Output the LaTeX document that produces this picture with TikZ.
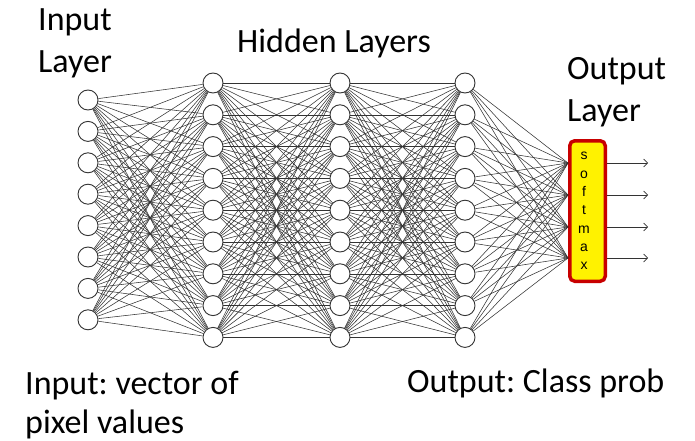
\documentclass[tikz,border=0pt]{standalone}
\usepackage{fontspec}
\setmainfont{Carlito}
\newfontfamily\boxfont{Liberation Sans}
\usetikzlibrary{calc,arrows.meta}

\begin{document}
\frenchspacing
\begin{tikzpicture}[x=1pt,y=-1pt]
\tikzset{neuron/.style={circle,draw=black!80,fill=white,line width=0.9pt,minimum size=20pt,inner sep=0pt},
  wire/.style={black!80,line width=0.55pt},
  caption/.style={anchor=north west,align=left,inner sep=0pt,font=\fontsize{34}{42}\selectfont},
  smbox/.style={draw={rgb,255:red,200;green,0;blue,0},fill=yellow,line width=3.5pt,rounded corners=5pt,minimum width=35.5pt,minimum height=140.5pt,inner sep=0pt}}
\useasboundingbox (0,0) rectangle (695,441);
% layers
\foreach \k in {1,...,8}
  \node[neuron] (i\k) at (88,{100+31.4*(\k-1)}) {};
\foreach \k in {1,...,9} {
  \node[neuron] (a\k) at (213,{83+31.8*(\k-1)}) {};
  \node[neuron] (b\k) at (340,{83+31.8*(\k-1)}) {};
  \node[neuron] (c\k) at (465,{83+31.8*(\k-1)}) {};
}
\node[smbox] (sm) at (587.5,211) {};
\node[font=\boxfont\fontsize{14}{18.3}\selectfont,align=center,inner sep=0pt] (smtext) at (584,211) {s\\o\\f\\t\\m\\a\\x};
\coordinate (p1) at (568,163);
\coordinate (p2) at (568,195);
\coordinate (p3) at (568,227);
\coordinate (p4) at (568,258);
\coordinate (e1) at (648,163);
\coordinate (e2) at (648,195);
\coordinate (e3) at (648,227);
\coordinate (e4) at (648,258);
% weights
\foreach \k in {1,...,8}
  \foreach \m in {1,...,9}
    \draw[wire] (i\k) -- (a\m);
\foreach \k in {1,...,9}
  \foreach \m in {1,...,9} {
    \draw[wire] (a\k) -- (b\m);
    \draw[wire] (b\k) -- (c\m);
  }
\foreach \k in {1,...,9}
  \foreach \m in {1,...,4}
    \draw[wire] (c\k) -- (p\m);
% outputs
\foreach \m in {1,...,4}
  \draw[black!80,line width=0.7pt,-{Straight Barb[length=4pt,width=8pt]}] (sm.east |- p\m) -- (e\m);
% labels
\node[caption] (inlabel) at (38,8) {Input\\Layer};
\node[caption] (hidlabel) at (237,29) {Hidden Layers};
\node[caption] (outlabel) at (567,57) {Output\\Layer};
\node[caption,font=\fontsize{34}{39}\selectfont] (invec) at (25,371) {Input: vector of\\pixel values};
\node[caption] (outprob) at (407,369) {Output: Class prob};
\end{tikzpicture}
\end{document}
